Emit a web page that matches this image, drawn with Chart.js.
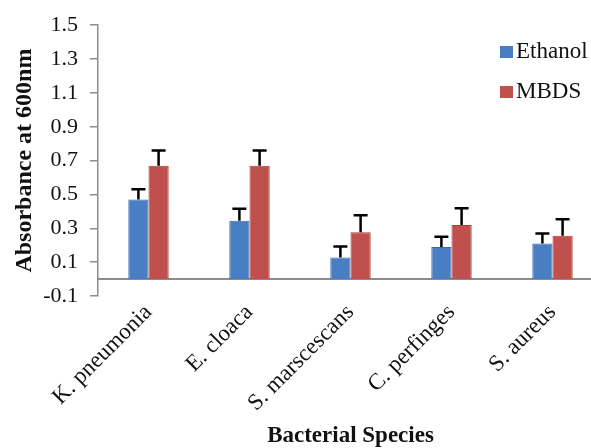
<!DOCTYPE html>
<html lang="en">
<head>
  <meta charset="UTF-8" />
  <title>Absorbance by bacterial species</title>
  <script src="https://cdn.jsdelivr.net/npm/chart.js"></script>
  <style>
    html, body { margin: 0; padding: 0; background: #fff; overflow: hidden; }
    #wrap { width: 610px; height: 448px; }
  </style>
</head>
<body>
  <div id="wrap"><canvas id="absChart"></canvas></div>

  <script>
    // data
    const categories = ['K. pneumonia', 'E. cloaca', 'S. marscescans', 'C. perfinges', 'S. aureus'];
    const ethanol    = [0.47, 0.345, 0.127, 0.19, 0.21];
    const ethanolErr = [0.06, 0.07, 0.066, 0.06, 0.06];
    const mbds       = [0.67, 0.67, 0.277, 0.32, 0.256];
    const mbdsErr    = [0.09, 0.09, 0.10, 0.098, 0.097];
    const yTicks     = [-0.1, 0.1, 0.3, 0.5, 0.7, 0.9, 1.1, 1.3, 1.5];

    const serif = "'Liberation Serif', 'Times New Roman', serif";

    // up-only error bars, drawn through the y scale
    const errorBars = {
      id: 'errorBars',
      afterDatasetsDraw(chart) {
        const ctx = chart.ctx;
        const y = chart.scales.y;
        const errs = [ethanolErr, mbdsErr];
        ctx.save();
        ctx.strokeStyle = '#000';
        ctx.lineWidth = 2.5;
        chart.data.datasets.forEach((ds, i) => {
          chart.getDatasetMeta(i).data.forEach((bar, j) => {
            const top = y.getPixelForValue(ds.data[j] + errs[i][j]);
            ctx.beginPath();
            ctx.moveTo(bar.x, bar.y);
            ctx.lineTo(bar.x, top);
            ctx.moveTo(bar.x - 7, top);
            ctx.lineTo(bar.x + 7, top);
            ctx.stroke();
          });
        });
        ctx.restore();
      }
    };

    // horizontal axis line at zero
    const zeroLine = {
      id: 'zeroLine',
      beforeDatasetsDraw(chart) {
        const ctx = chart.ctx;
        const y0 = chart.scales.y.getPixelForValue(0);
        ctx.save();
        ctx.strokeStyle = '#8c8c8c';
        ctx.lineWidth = 2;
        ctx.beginPath();
        ctx.moveTo(chart.chartArea.left, y0);
        ctx.lineTo(chart.chartArea.right, y0);
        ctx.stroke();
        ctx.restore();
      }
    };

    // vertical legend in the top right
    const sideLegend = {
      id: 'sideLegend',
      afterDraw(chart) {
        const ctx = chart.ctx;
        ctx.save();
        ctx.font = "23px " + serif;
        ctx.textBaseline = 'middle';
        chart.data.datasets.forEach((ds, i) => {
          const ly = 52 + i * 40;
          ctx.fillStyle = ds.backgroundColor;
          ctx.fillRect(500, ly - 6, 13, 12);
          ctx.fillStyle = '#111';
          ctx.fillText(ds.label, 516, ly);
        });
        ctx.restore();
      }
    };

    new Chart(document.getElementById('absChart'), {
      type: 'bar',
      data: {
        labels: categories,
        datasets: [
          {
            label: 'Ethanol',
            data: ethanol,
            backgroundColor: '#4a7ec3',
            borderColor: '#3a69a8',
            borderWidth: 1
          },
          {
            label: 'MBDS',
            data: mbds,
            backgroundColor: '#c0504d',
            borderColor: '#b03a37',
            borderWidth: 1
          }
        ]
      },
      options: {
        responsive: true,
        maintainAspectRatio: false,
        animation: false,
        layout: { padding: { top: 23, right: 7, left: 0, bottom: 0 } },
        datasets: { bar: { categoryPercentage: 0.4, barPercentage: 1 } },
        plugins: {
          legend: { display: false },
          tooltip: { enabled: false }
        },
        scales: {
          x: {
            grid: { display: false, drawTicks: false },
            border: { display: false },
            ticks: {
              minRotation: 45,
              maxRotation: 45,
              padding: 3,
              color: '#111',
              font: { family: serif, size: 23 }
            },
            title: {
              display: true,
              text: 'Bacterial Species',
              color: '#111',
              font: { family: serif, size: 23, weight: 'bold', lineHeight: 1 },
              padding: { top: 0, bottom: 0 }
            },
            afterFit(scale) { scale.height = 152; }
          },
          y: {
            min: -0.1,
            max: 1.5,
            afterBuildTicks(scale) { scale.ticks = yTicks.map(v => ({ value: v })); },
            grid: {
              drawOnChartArea: false,
              drawTicks: true,
              tickLength: 8,
              color: '#8c8c8c',
              lineWidth: 1.5
            },
            border: { display: true, color: '#8c8c8c', width: 1.5 },
            ticks: {
              padding: 12,
              color: '#111',
              font: { family: serif, size: 22 },
              callback: v => v.toFixed(1)
            },
            title: {
              display: true,
              text: 'Absorbance at 600nm',
              color: '#111',
              font: { family: serif, size: 24, weight: 'bold' },
              padding: { top: 10, bottom: 0 }
            },
            afterFit(scale) { scale.width = 98; }
          }
        }
      },
      plugins: [zeroLine, errorBars, sideLegend]
    });
  </script>
</body>
</html>
